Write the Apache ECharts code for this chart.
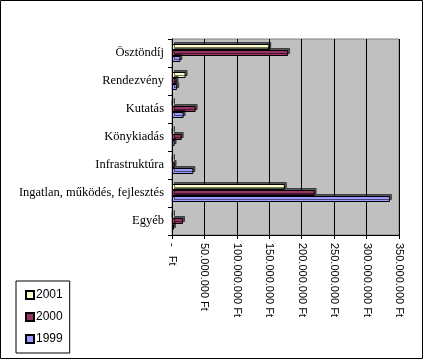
<!DOCTYPE html>
<html><head><meta charset="utf-8">
<script src="https://cdn.jsdelivr.net/npm/echarts@6/dist/echarts.min.js"></script>
<style>html,body{margin:0;padding:0;background:#fff}#c{width:423px;height:359px}</style>
</head><body><div id="c"></div>
<script>
const categories = ['Ösztöndíj','Rendezvény','Kutatás','Könykiadás','Infrastruktúra','Ingatlan, működés, fejlesztés','Egyéb'];
const seriesNames = ['2001','2000','1999'];
const values2001 = [150000000, 21000000, 1000000, 1000000, 1000000, 174000000, 1000000];
const values2000 = [179000000, 7000000, 36500000, 15000000, 4000000, 220000000, 17000000];
const values1999 = [13000000, 8000000, 18000000, 4000000, 33000000, 336000000, 3000000];
const colors = ['#FFFFCC','#993366','#9999FF'];
const xTicks = {min:0, max:350000000, interval:50000000};

function fmt(v){
  if(v===0) return '-   Ft';
  return String(v).replace(/\B(?=(\d{3})+(?!\d))/g,'.') + ' Ft';
}
const chart = echarts.init(document.getElementById('c'), null, {renderer:'canvas'});
const data = [values2001, values2000, values1999];
chart.setOption({
  animation:false,
  textStyle:{fontFamily:'Liberation Sans'},
  graphic:[{type:'rect', shape:{x:0.5,y:0.5,width:422,height:358}, style:{fill:null, stroke:'#000', lineWidth:1}, z:100}],
  grid:{left:172, top:39, width:227, height:196, show:true, backgroundColor:'#C0C0C0', borderColor:'#808080', borderWidth:1},
  legend:{
    orient:'vertical', left:16, top:281, data:seriesNames,
    itemWidth:8, itemHeight:8, itemGap:10, icon:'rect',
    borderColor:'#000', borderWidth:1, padding:[8,7,8,9],
    textStyle:{fontFamily:'Liberation Sans', fontSize:12, color:'#000', padding:[0,0,0,-3]}
  },
  xAxis:{
    type:'value', min:xTicks.min, max:xTicks.max, interval:xTicks.interval,
    axisLine:{show:true, lineStyle:{color:'#000'}},
    axisTick:{show:true, length:4, lineStyle:{color:'#000'}},
    splitLine:{show:true, lineStyle:{color:'#000', width:1}},
    axisLabel:{rotate:-90, formatter:fmt, color:'#000', fontSize:11, fontFamily:'Liberation Sans', margin:8}
  },
  yAxis:{
    type:'category', data:categories, inverse:true,
    axisLine:{show:true, lineStyle:{color:'#000'}},
    axisTick:{show:true, length:4, lineStyle:{color:'#000'}},
    axisLabel:{color:'#000', fontSize:12.5, fontFamily:'Liberation Serif', margin:8}
  },
  series: seriesNames.map((n,i)=>({
    name:n, type:'bar', data:data[i], barWidth:6, barGap:'0%',
    itemStyle:{color:colors[i], borderColor:'#000', borderWidth:1,
      shadowColor:'rgba(0,0,0,0.55)', shadowOffsetX:2, shadowOffsetY:-2, shadowBlur:0}
  }))
});
</script></body></html>
